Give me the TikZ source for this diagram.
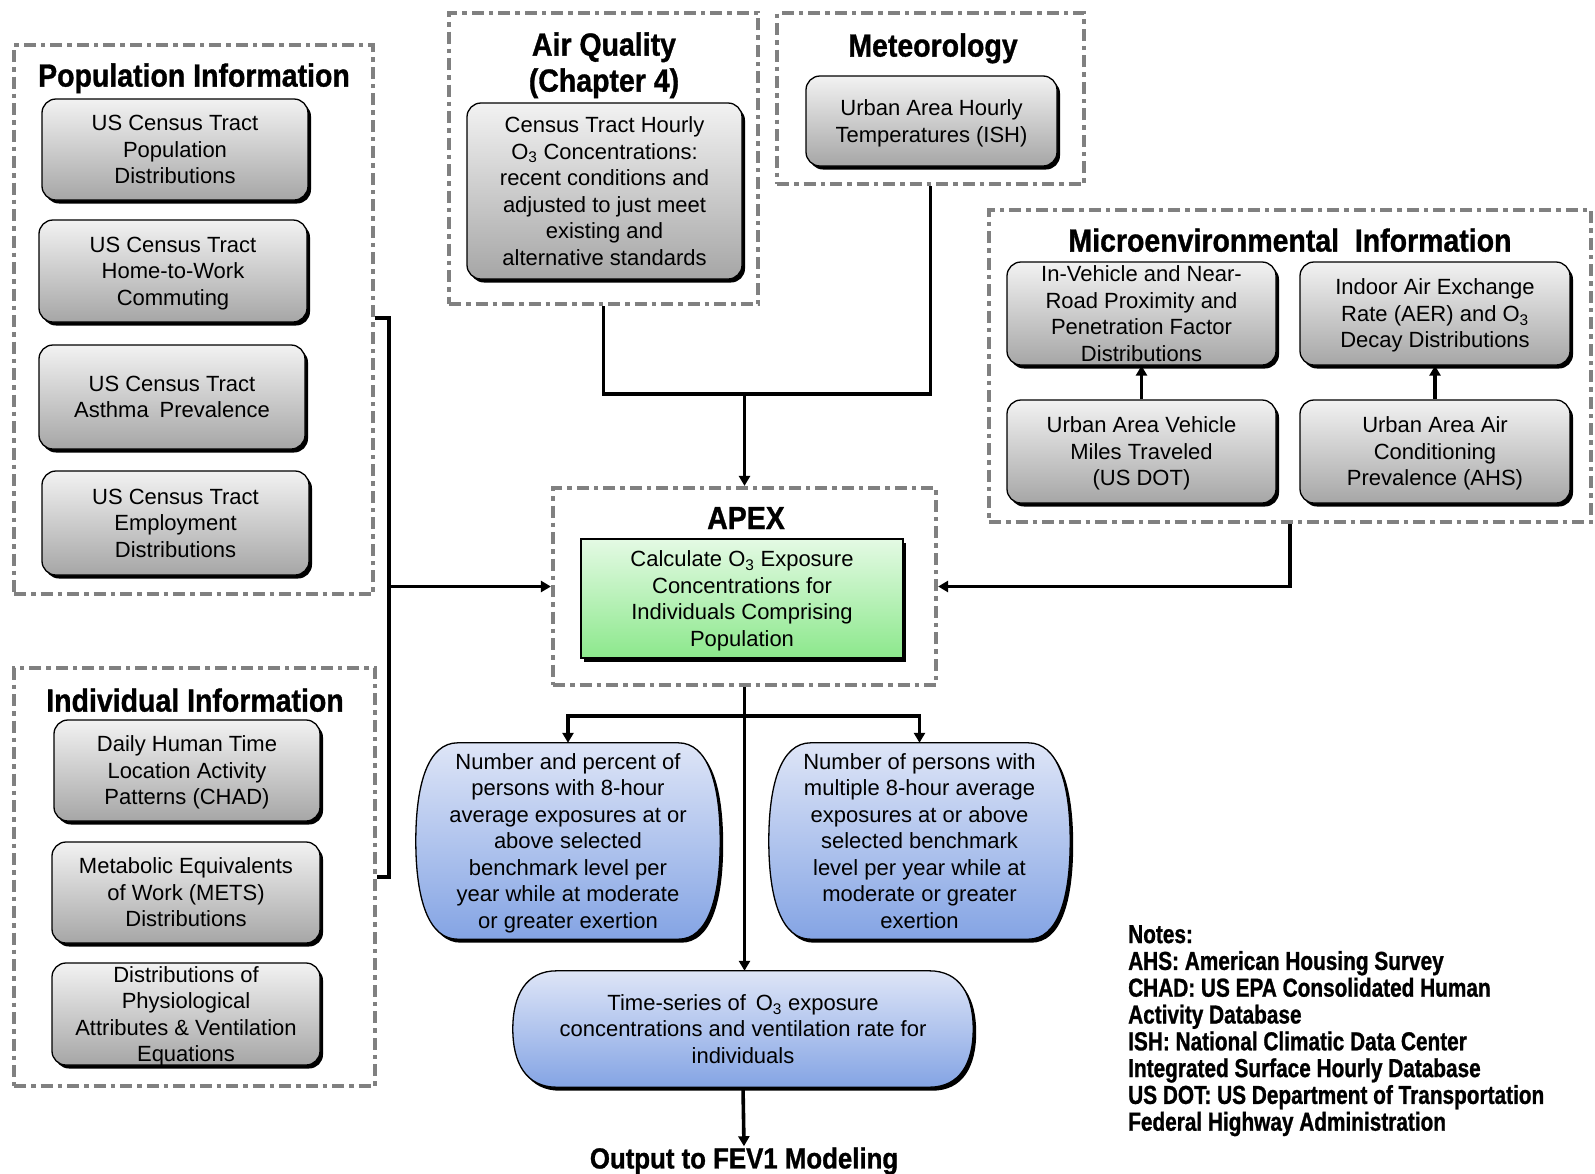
\documentclass[tikz,border=0pt]{standalone}
\usepackage{fontspec}
\setmainfont{Liberation Sans}
\newfontfamily\titlefont{Liberation Sans}[FakeStretch=0.89,FakeBold=1]
\newfontfamily\notefont{Liberation Sans}[FakeStretch=0.8,FakeBold=1]
\usetikzlibrary{arrows.meta,shadows,calc,backgrounds}

\definecolor{gtop}{RGB}{242,242,242}
\definecolor{gbot}{RGB}{166,166,166}
\definecolor{grtop}{RGB}{228,250,228}
\definecolor{grbot}{RGB}{140,232,140}
\definecolor{btop}{RGB}{222,229,247}
\definecolor{bbot}{RGB}{132,164,228}
\definecolor{framegray}{RGB}{128,128,128}

\newcommand\boxtext{\fontsize{22}{26.5}\selectfont}
\newcommand\grouptitle{\titlefont\bfseries\fontsize{32}{36}\selectfont}
\newcommand\outtext{\titlefont\bfseries\fontsize{29}{32}\selectfont}
\newcommand\notestext{\notefont\bfseries\fontsize{26}{26.8}\selectfont}

% barrel outline around a node: flat top/bottom, bulging sides
% #1 node, #2 horizontal reach of the side curve, #3 vertical control offset
\newcommand\barrel[3]{%
  ($(#1.north west)+(#2,0)$) -- ($(#1.north east)+(-#2,0)$)
  .. controls ($(#1.north east)+(-0.3*#2,0)$) and ($(#1.east)+(0,-#3)$) .. (#1.east)
  .. controls ($(#1.east)+(0,#3)$) and ($(#1.south east)+(-0.3*#2,0)$) .. ($(#1.south east)+(-#2,0)$)
  -- ($(#1.south west)+(#2,0)$)
  .. controls ($(#1.south west)+(0.3*#2,0)$) and ($(#1.west)+(0,#3)$) .. (#1.west)
  .. controls ($(#1.west)+(0,-#3)$) and ($(#1.north west)+(0.3*#2,0)$) .. cycle}

\tikzset{
  grp/.style={draw=framegray, line width=4.2pt,
    dash pattern=on 12pt off 5pt on 4.5pt off 5pt, inner sep=0pt},
  boxshadow/.style={drop shadow={shadow xshift=3pt, shadow yshift=-3.5pt,
    fill=black, opacity=1}},
  graybox/.style={draw=black, line width=1.3pt, rounded corners=14pt,
    top color=gtop, bottom color=gbot, boxshadow,
    align=center, font=\boxtext, inner sep=0pt, text depth=0pt},
  greenbox/.style={draw=black, line width=1.3pt,
    top color=grtop, bottom color=grbot, boxshadow,
    align=center, font=\boxtext, inner sep=0pt, text depth=0pt},
  bluetext/.style={align=center, font=\boxtext, inner sep=0pt, text depth=0pt},
  grptitle/.style={font=\grouptitle, inner sep=0pt, align=center, text depth=0pt},
  conn/.style={draw=black, line width=3.6pt},
  arrowed/.style={-{Triangle[length=10pt,width=11pt]}},
}

\begin{document}
\begin{tikzpicture}[x=1pt,y=-1pt]
\useasboundingbox (0,0) rectangle (1595,1173);

% ---------- group frames ----------
\node[grp, minimum width=359pt, minimum height=549pt] (popg)   at (193.5,319.5) {};
\node[grp, minimum width=361pt, minimum height=418pt] (indg)   at (194.5,877) {};
\node[grp, minimum width=309pt, minimum height=291pt] (airg)   at (603.5,158.5) {};
\node[grp, minimum width=307pt, minimum height=171pt] (metg)   at (930.5,98.5) {};
\node[grp, minimum width=602pt, minimum height=312pt] (microg) at (1290,366) {};
\node[grp, minimum width=383pt, minimum height=197pt] (apexg)  at (744.5,586.5) {};

% ---------- group titles ----------
\node[grptitle] (poptitle)   at (194,75)  {Population Information};
\node[grptitle] (indtitle)   at (195,700) {Individual Information};
\node[grptitle] (airtitle)   at (604,62)  {Air Quality\\(Chapter 4)};
\node[grptitle] (mettitle)   at (933,45)  {Meteorology};
\node[grptitle] (microtitle) at (1290,240) {Microenvironmental\ \ Information};
\node[grptitle] (apextitle)  at (746,518) {APEX};

% ---------- population information ----------
\node[graybox, minimum width=266pt, minimum height=101pt] (b1) at (175,149.5)
  {US Census Tract\\Population\\Distributions};
\node[graybox, minimum width=268pt, minimum height=102pt] (b2) at (173,271)
  {US Census Tract\\Home-to-Work\\Commuting};
\node[graybox, minimum width=266pt, minimum height=104pt] (b3) at (172,397)
  {US Census Tract\\Asthma\hspace{0.5em}Prevalence};
\node[graybox, minimum width=267pt, minimum height=104pt] (b4) at (175.5,523)
  {US Census Tract\\Employment\\Distributions};

% ---------- individual information ----------
\node[graybox, minimum width=266pt, minimum height=101pt] (i1) at (187,770.5)
  {Daily Human Time\\Location Activity\\Patterns (CHAD)};
\node[graybox, minimum width=268pt, minimum height=101pt] (i2) at (186,892.5)
  {Metabolic Equivalents\\of Work (METS)\\Distributions};
\node[graybox, minimum width=268pt, minimum height=102pt] (i3) at (186,1014)
  {Distributions of\\Physiological\\Attributes \& Ventilation\\Equations};

% ---------- air quality and meteorology ----------
\node[graybox, minimum width=275pt, minimum height=176pt] (aq) at (604.5,191)
  {Census Tract Hourly\\O\textsubscript{3} Concentrations:\\recent conditions and\\adjusted to just meet\\existing and\\alternative standards};
\node[graybox, minimum width=251pt, minimum height=90pt] (met) at (931.5,121)
  {Urban Area Hourly\\Temperatures (ISH)};

% ---------- microenvironmental information ----------
\node[graybox, minimum width=269pt, minimum height=103pt] (m1) at (1141.5,313.5)
  {In-Vehicle and Near-\\Road Proximity and\\Penetration Factor\\Distributions};
\node[graybox, minimum width=270pt, minimum height=103pt] (m2) at (1435,313.5)
  {Indoor Air Exchange\\Rate (AER) and O\textsubscript{3}\\Decay Distributions};
\node[graybox, minimum width=269pt, minimum height=103pt] (m3) at (1141.5,451.5)
  {Urban Area Vehicle\\Miles Traveled\\(US DOT)};
\node[graybox, minimum width=270pt, minimum height=103pt] (m4) at (1435,451.5)
  {Urban Area Air\\Conditioning\\Prevalence (AHS)};

% ---------- APEX ----------
\node[greenbox, minimum width=322pt, minimum height=119pt] (calc) at (742,598.5)
  {Calculate O\textsubscript{3} Exposure\\Concentrations for\\Individuals Comprising\\Population};

% ---------- outputs ----------
\node[bluetext, minimum width=304pt, minimum height=196pt] (bl) at (568,841)
  {Number and percent of\\persons with 8-hour\\average exposures at or\\above selected\\benchmark level per\\year while at moderate\\or greater exertion};
\node[bluetext, minimum width=301pt, minimum height=196pt] (br) at (919.5,841)
  {Number of persons with\\multiple 8-hour average\\exposures at or above\\selected benchmark\\level per year while at\\moderate or greater\\exertion};
\node[bluetext, minimum width=460pt, minimum height=116pt] (ts) at (743,1029)
  {Time-series of\, O\textsubscript{3} exposure\\concentrations and ventilation rate for\\individuals};

\node[font=\outtext, inner sep=1pt] (out) at (744,1161) {Output to FEV1 Modeling};

% ---------- notes ----------
\node[anchor=north west, align=left, font=\notestext, inner sep=0pt] (notes) at (1128,925)
  {Notes:\\AHS: American Housing Survey\\CHAD: US EPA Consolidated Human\\Activity Database\\ISH: National Climatic Data Center\\Integrated Surface Hourly Database\\US DOT: US Department of Transportation\\Federal Highway Administration};

% ---------- connectors ----------
\coordinate (topjoin) at (744.5,394);
\draw[conn] (airg.south) |- (topjoin) -| (metg.south);
\draw[conn, arrowed] (topjoin) -- (apexg.north);

\coordinate (bt) at (389,318);
\coordinate (bb) at (389,877);
\draw[conn] (popg.east |- bt) -- (bt) -- (bb) -- (indg.east |- bb);
\draw[conn, arrowed] (bt |- apexg.west) -- (apexg.west);

\draw[conn, arrowed] (microg.south) |- (apexg.east);

\draw[conn, arrowed] (m3.north) -- (m1.south);
\draw[conn, arrowed] (m4.north) -- (m2.south);

\coordinate (split) at (744.5,716);
\draw[conn] (apexg.south) -- (split);
\draw[conn, arrowed] (split) -| (bl.north);
\draw[conn, arrowed] (split) -| (br.north);
\draw[conn, arrowed] (split) -- (ts.north -| split);
\draw[conn, arrowed] (ts.south) -- (out.north);

% ---------- barrel-shaped output boxes, under their text ----------
\begin{pgfonlayer}{background}
  \fill[white] (0,0) rectangle (1595,1173);
  \foreach \n/\r/\k in {bl/42/58, br/42/58, ts/44/34} {
    \fill[black, transform canvas={shift={(3pt,-3.5pt)}}] \barrel{\n}{\r}{\k};
    \draw[black, line width=1.3pt, top color=btop, bottom color=bbot] \barrel{\n}{\r}{\k};
  }
\end{pgfonlayer}
\end{tikzpicture}
\end{document}
